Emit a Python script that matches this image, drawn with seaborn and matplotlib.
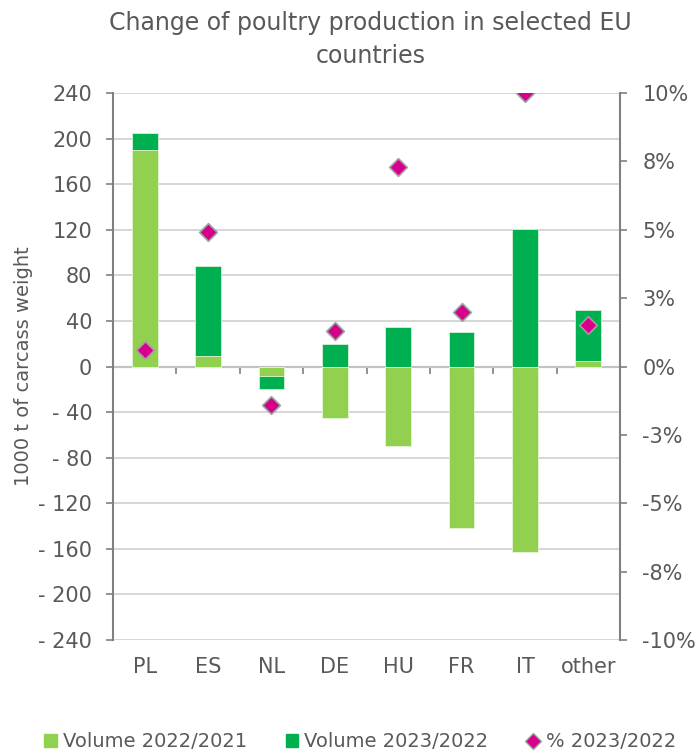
"""Change of poultry production in selected EU countries."""

import matplotlib

matplotlib.use("Agg")
import matplotlib.pyplot as plt
import numpy as np
import pandas as pd
import seaborn as sns
from matplotlib.lines import Line2D
from matplotlib.patches import Patch
from matplotlib.ticker import FuncFormatter

countries = ["PL", "ES", "NL", "DE", "HU", "FR", "IT", "other"]
vol_2022_2021 = [190, 9, -8, -45, -70, -142, -163, 5]
vol_2023_2022 = [15, 79, -12, 20, 35, 30, 121, 45]
pct_2023_2022 = [0.6, 4.9, -1.4, 1.3, 7.3, 2.0, 10.0, 1.5]

LIGHT = "#92D050"
DARK = "#00B050"
PINK = "#D6008C"
GREY = "#595959"
AXIS = "#808080"

df = pd.DataFrame(
    {"country": countries, "v1": vol_2022_2021, "v2": vol_2023_2022, "pct": pct_2023_2022}
)
# the 2023/2022 bar sits on top of the 2022/2021 one when both point the same way
same_sign = np.sign(df["v1"]) == np.sign(df["v2"])
df["v2_top"] = np.where(same_sign, df["v1"] + df["v2"], df["v2"])

sns.set_theme(style="white")
plt.rcParams["font.family"] = ["DejaVu Sans"]
plt.rcParams["text.color"] = GREY

fig = plt.figure(figsize=(6.99, 7.53), dpi=100)
ax = fig.add_axes([0.1617, 0.15, 0.887 - 0.1617, 0.8765 - 0.15])

sns.barplot(data=df, x="country", y="v2_top", color=DARK, width=0.405,
            saturation=1, edgecolor="#d8f0d8", linewidth=0.6, ax=ax)
sns.barplot(data=df, x="country", y="v1", color=LIGHT, width=0.405,
            saturation=1, edgecolor="#e6f5d6", linewidth=0.6, ax=ax)

ax.set_ylim(-240, 240)
ax.set_xlim(-0.5, len(countries) - 0.5)
ax.set_yticks(np.arange(-240, 241, 40))
ax.yaxis.set_major_formatter(
    FuncFormatter(lambda v, _: f"- {abs(v):.0f}" if v < 0 else f"{v:.0f}")
)
ax.yaxis.grid(True, color="#d0d0d0", linewidth=1.2)
ax.set_axisbelow(True)
ax.set_xlabel("")
ax.set_ylabel("1000 t of carcass weight", fontsize=14, color=GREY, labelpad=4)
ax.tick_params(axis="y", colors=AXIS, labelcolor=GREY, labelsize=15,
               length=5, width=1.2, left=True, direction="out", pad=10)
ax.tick_params(axis="x", length=0, labelsize=15, labelcolor=GREY, pad=12)
for side in ["top", "bottom", "right"]:
    ax.spines[side].set_visible(False)
ax.spines["left"].set_color(AXIS)
ax.spines["left"].set_linewidth(1.5)

# zero line with category separators
zero = ax.secondary_xaxis(0.5)
zero.set_alignment("bottom")
zero.set_xticks(np.arange(-0.5, len(countries), 1.0))
zero.set_xticklabels([])
zero.tick_params(length=5, width=1.2, colors=AXIS, direction="out")
zero.spines["bottom"].set_color(AXIS)
zero.spines["bottom"].set_linewidth(1.5)

ax2 = ax.twinx()
sns.stripplot(data=df, x="country", y="pct", jitter=False, marker="D", size=9,
              color=PINK, edgecolor="#a0a0a0", linewidth=1.2, ax=ax2, zorder=5)
ax2.set_xlim(-0.5, len(countries) - 0.5)
ax2.set_ylim(-10, 10)
ax2.set_yticks(np.arange(-10, 10.1, 2.5))


def pct_label(v, _):
    r = int(np.floor(abs(v) + 0.5))
    return f"-{r}%" if v < 0 else f"{r}%"


ax2.yaxis.set_major_formatter(FuncFormatter(pct_label))
ax2.set_ylabel("")
ax2.set_xlabel("")
ax2.tick_params(axis="y", colors=AXIS, labelcolor=GREY, labelsize=15,
                length=5, width=1.2, right=True, direction="out", pad=11)
for side in ["top", "bottom", "left"]:
    ax2.spines[side].set_visible(False)
ax2.spines["right"].set_color(AXIS)
ax2.spines["right"].set_linewidth(1.5)

fig.suptitle("Change of poultry production in selected EU\ncountries",
             x=0.53, y=0.985, fontsize=17, color=GREY, linespacing=1.45)

handles = [
    Patch(color=LIGHT, label="Volume 2022/2021"),
    Patch(color=DARK, label="Volume 2023/2022"),
    Line2D([], [], marker="D", linestyle="none", markersize=8,
           markerfacecolor=PINK, markeredgecolor="#a0a0a0", label="% 2023/2022"),
]
fig.legend(handles=handles, loc="center", bbox_to_anchor=(0.515, 0.015), ncol=3,
           frameon=False, fontsize=14, handlelength=0.65, handleheight=0.65,
           handletextpad=0.3, columnspacing=2.0, labelcolor=GREY)

fig.savefig("out.png", dpi=100)
